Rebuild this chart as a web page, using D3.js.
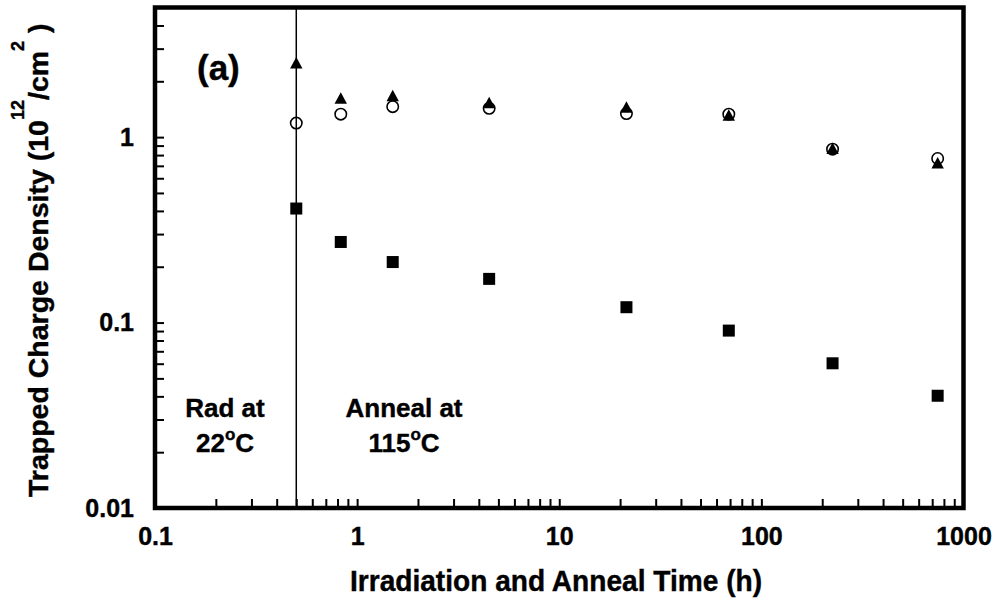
<!DOCTYPE html>
<html>
<head>
<meta charset="utf-8">
<script src="https://cdn.jsdelivr.net/npm/d3@7"></script>
<style>
  body { margin: 0; background: #fff; }
  svg text { font-family: "Liberation Sans", Arial, sans-serif; font-weight: bold; fill: #000; stroke: #000; stroke-width: 0.4; }
</style>
</head>
<body>
<svg id="chart" width="1003" height="604"></svg>
<script>
// values (time in h, density in 1e12/cm^2)
var times     = [0.5, 0.83, 1.5, 4.5, 21.5, 69, 225, 745];
var triangles = [2.51, 1.62, 1.67, 1.53, 1.45, 1.31, 0.869, 0.726];
var circles   = [1.19, 1.33, 1.46, 1.43, 1.34, 1.33, 0.861, 0.767];
var squares   = [0.412, 0.272, 0.212, 0.172, 0.121, 0.0905, 0.0603, 0.0403];
var switchTime = 0.5;

var svg = d3.select("#chart");

var x = d3.scaleLog()
    .domain([0.1, 1000])
    .range([155, 963.5]);

var y = d3.scaleLog()
    .domain([0.01, 5])
    .range([508, 7.5]);

function isDecade(d) {
  var l = Math.log10(d);
  return Math.abs(l - Math.round(l)) < 1e-9;
}
var fmt = d3.format("~g");

// axes, ticks pointing inward
var xAxis = d3.axisBottom(x)
    .tickValues(x.ticks())
    .tickSize(-9)
    .tickPadding(19)
    .tickFormat(function(d) { return isDecade(d) ? fmt(d) : ""; });

var yAxis = d3.axisLeft(y)
    .tickValues(y.ticks())
    .tickSize(-9)
    .tickPadding(21)
    .tickFormat(function(d) { return isDecade(d) ? fmt(d) : ""; });

var gx = svg.append("g")
    .attr("transform", "translate(0,508)")
    .call(xAxis);
var gy = svg.append("g")
    .attr("transform", "translate(155,0)")
    .call(yAxis);

[gx, gy].forEach(function(g) {
  g.select(".domain").remove();
  g.selectAll(".tick line").attr("stroke", "#000").attr("stroke-width", 2);
  g.selectAll(".tick text")
    .style("font-family", "'Liberation Sans', Arial, sans-serif")
    .style("font-weight", "bold")
    .style("font-size", "25px")
    .attr("fill", "#000");
});

// frame
svg.append("rect")
    .attr("x", x.range()[0])
    .attr("y", y.range()[1])
    .attr("width", x.range()[1] - x.range()[0])
    .attr("height", y.range()[0] - y.range()[1])
    .attr("fill", "none")
    .attr("stroke", "#000")
    .attr("stroke-width", 4.5);

// irradiation / anneal boundary
svg.append("line")
    .attr("x1", x(switchTime)).attr("x2", x(switchTime))
    .attr("y1", y.range()[1]).attr("y2", y.range()[0])
    .attr("stroke", "#000")
    .attr("stroke-width", 1.5);

// open circles
svg.append("g").selectAll("circle")
    .data(times.map(function(t, i) { return [t, circles[i]]; }))
  .enter().append("circle")
    .attr("cx", function(d) { return x(d[0]); })
    .attr("cy", function(d) { return y(d[1]); })
    .attr("r", 5.7)
    .attr("fill", "none")
    .attr("stroke", "#000")
    .attr("stroke-width", 1.6);

// filled triangles
svg.append("g").selectAll("path")
    .data(times.map(function(t, i) { return [t, triangles[i]]; }))
  .enter().append("path")
    .attr("d", "M0,-6L6.2,5.5L-6.2,5.5Z")
    .attr("transform", function(d) { return "translate(" + x(d[0]) + "," + y(d[1]) + ")"; })
    .attr("fill", "#000");

// filled squares
svg.append("g").selectAll("rect")
    .data(times.map(function(t, i) { return [t, squares[i]]; }))
  .enter().append("rect")
    .attr("x", function(d) { return x(d[0]) - 6; })
    .attr("y", function(d) { return y(d[1]) - 6; })
    .attr("width", 12)
    .attr("height", 12)
    .attr("fill", "#000");

// panel label
svg.append("text")
    .attr("x", 197)
    .attr("y", 80)
    .style("font-size", "35px")
    .text("(a)");

// region notes
function note(cx, lines) {
  svg.append("text")
      .attr("x", cx).attr("y", 417)
      .attr("text-anchor", "middle")
      .style("font-size", "26px")
      .text(lines[0]);
  var t2 = svg.append("text")
      .attr("x", cx).attr("y", 452)
      .attr("text-anchor", "middle")
      .style("font-size", "26px");
  t2.append("tspan").text(lines[1]);
  t2.append("tspan").attr("dy", -12).style("font-size", "17px").text("o");
  t2.append("tspan").attr("dy", 12).text("C");
}
note(225, ["Rad at", "22"]);
note(404, ["Anneal at", "115"]);

// axis titles
svg.append("text")
    .attr("x", 556)
    .attr("y", 591)
    .attr("text-anchor", "middle")
    .attr("textLength", 412)
    .attr("lengthAdjust", "spacingAndGlyphs")
    .style("font-size", "30px")
    .text("Irradiation and Anneal Time (h)");

var yt = svg.append("text")
    .attr("transform", "translate(48,497) rotate(-90)")
    .style("font-size", "28.5px");
yt.append("tspan").text("Trapped Charge Density (10");
yt.append("tspan").attr("dy", -24).style("font-size", "18px").text("12");
yt.append("tspan").attr("dy", 24).text("/cm");
yt.append("tspan").attr("dy", -24).style("font-size", "18px").text("2");
yt.append("tspan").attr("dy", 24).text(" )");
</script>
</body>
</html>
